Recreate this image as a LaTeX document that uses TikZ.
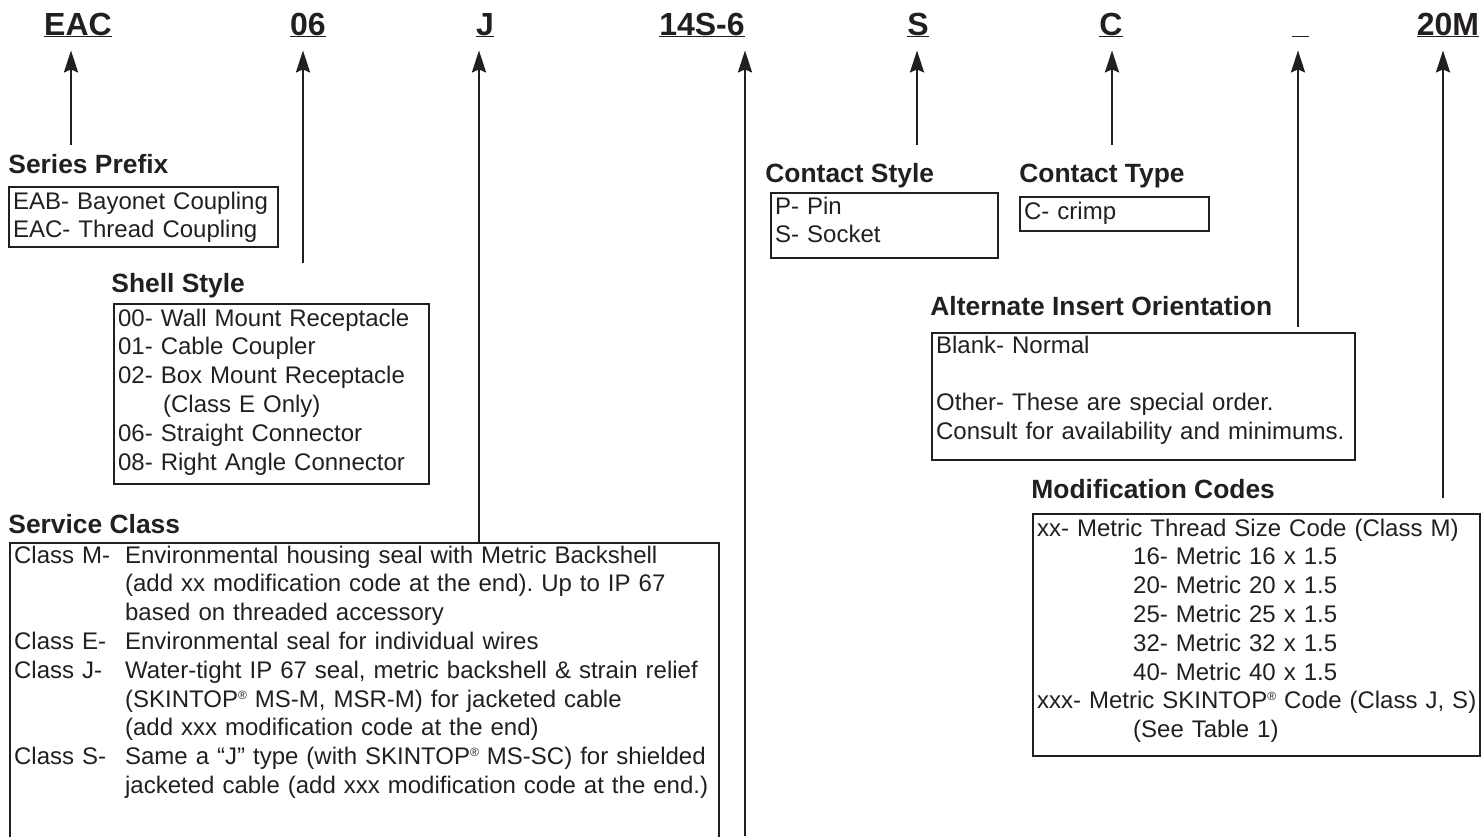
\documentclass[tikz,border=0pt]{standalone}
\usepackage{fontspec}
\setmainfont{Liberation Sans}
\usetikzlibrary{arrows.meta, positioning}
\usepackage{xcolor}
\definecolor{inkBlack}{RGB}{35,31,32}
\frenchspacing

\newcommand{\codelbl}[1]{\setbox0\hbox{#1}\rlap{\rule[-1.2pt]{\wd0}{0.9pt}}\box0}
\newcommand{\regmark}{\raisebox{4pt}{\fontsize{6}{6}\selectfont ®}}

\begin{document}
\begin{tikzpicture}[
    x=0.5pt, y=-0.5pt,
    every node/.style={text=inkBlack},
    codelabel/.style={font=\fontsize{16}{19}\selectfont\bfseries, anchor=base, inner xsep=0pt, inner ysep=6.3pt},
    fieldhead/.style={font=\fontsize{13.2}{15.8}\selectfont\bfseries, anchor=base west, inner sep=0pt},
    optbox/.style={rectangle, draw=inkBlack, line width=1.15pt, anchor=north west, align=left, inner xsep=2pt, inner ysep=0pt, font=\fontsize{12}{14.4}\selectfont},
    arrow/.style={-{Stealth[length=11pt, width=7pt, inset=1.5pt]}, line width=1.3pt, draw=inkBlack}
]
\useasboundingbox (0,0) rectangle (1483,836);

% Part number
\node[codelabel] (series) at (78,35) {\codelbl{EAC}};
\node[codelabel] (shell) at (308,35) {\codelbl{06}};
\node[codelabel] (class) at (485,35) {\codelbl{J}};
\node[codelabel] (layout) at (702,35) {\codelbl{14S-6}};
\node[codelabel] (cstyle) at (918,35) {\codelbl{S}};
\node[codelabel] (ctype) at (1111,35) {\codelbl{C}};
\node[codelabel] (orient) at (1300,35) {\codelbl{\hspace*{8.5pt}}};
\node[codelabel] (modcode) at (1448,35) {\codelbl{20M}};

% Headings
\node[fieldhead] (serieshead) at (8,173) {Series Prefix};
\node[fieldhead] (shellhead) at (111,292) {Shell Style};
\node[fieldhead] (classhead) at (8,533) {Service Class};
\node[fieldhead] (cstylehead) at (765,182) {Contact Style};
\node[fieldhead] (ctypehead) at (1019,182) {Contact Type};
\node[fieldhead] (orienthead) at (930,315) {Alternate Insert Orientation};
\node[fieldhead] (modhead) at (1031,498) {Modification Codes};

% Option boxes
\node[optbox, text width=130.5pt, text height=11pt, text depth=19pt] (seriesbox) at (8,186) {
    EAB- Bayonet Coupling\\
    EAC- Thread Coupling
};
\node[optbox, text width=153.5pt, text height=11pt, text depth=79pt] (shellbox) at (113,303) {
    00- Wall Mount Receptacle\\
    01- Cable Coupler\\
    02- Box Mount Receptacle\\
    \hspace*{22.5pt}(Class E Only)\\
    06- Straight Connector\\
    08- Right Angle Connector
};
\node[optbox, text width=350.5pt, text height=10pt, text depth=170pt] (classbox) at (9,542) {
    \makebox[55.5pt][l]{Class M-}Environmental housing seal with Metric Backshell\\
    \hspace*{55.5pt}(add xx modification code at the end). Up to IP 67\\
    \hspace*{55.5pt}based on threaded accessory\\
    \makebox[55.5pt][l]{Class E-}Environmental seal for individual wires\\
    \makebox[55.5pt][l]{Class J-}Water-tight IP 67 seal, metric backshell \& strain relief\\
    \hspace*{55.5pt}(SKINTOP\regmark{} MS-M, MSR-M) for jacketed cable\\
    \hspace*{55.5pt}(add xxx modification code at the end)\\
    \makebox[55.5pt][l]{Class S-}Same a “J” type (with SKINTOP\regmark{} MS-SC) for shielded\\
    \hspace*{55.5pt}jacketed cable (add xxx modification code at the end.)
};
\node[optbox, text width=109.5pt, text height=10.5pt, text depth=22pt] (cstylebox) at (770,192) {
    P- Pin\\
    S- Socket
};
\node[optbox, text width=90.5pt, text height=11pt, text depth=6pt] (ctypebox) at (1019,196) {C- crimp};
\node[optbox, text width=207.5pt, text height=10pt, text depth=53.5pt] (orientbox) at (931,332) {
    Blank- Normal\\[14.4pt]
    Other- These are special order.\\
    Consult for availability and minimums.
};
\node[optbox, text width=219.5pt, text height=11pt, text depth=110pt] (modbox) at (1032,513) {
    \mbox{xx- Metric Thread Size Code (Class M)}\\
    \hspace*{48pt}16- Metric 16 x 1.5\\
    \hspace*{48pt}20- Metric 20 x 1.5\\
    \hspace*{48pt}25- Metric 25 x 1.5\\
    \hspace*{48pt}32- Metric 32 x 1.5\\
    \hspace*{48pt}40- Metric 40 x 1.5\\
    \mbox{xxx- Metric SKINTOP\regmark{} Code (Class J, S)}\\
    \hspace*{48pt}(See Table 1)
};

% Arrows
\coordinate (seriestail) at (71,145);
\coordinate (shelltail) at (303,263);
\coordinate (classtail) at (479,542);
\coordinate (layouttail) at (745,836);
\coordinate (cstyletail) at (917,145);
\coordinate (ctypetail) at (1112,145);
\coordinate (orienttail) at (1298,327);
\coordinate (modtail) at (1443,498);

\draw[arrow] (seriestail) -- (seriestail |- series.south);
\draw[arrow] (shelltail) -- (shelltail |- shell.south);
\draw[arrow] (classtail) -- (classtail |- class.south);
\draw[arrow] (layouttail) -- (layouttail |- layout.south);
\draw[arrow] (cstyletail) -- (cstyletail |- cstyle.south);
\draw[arrow] (ctypetail) -- (ctypetail |- ctype.south);
\draw[arrow] (orienttail) -- (orienttail |- orient.south);
\draw[arrow] (modtail) -- (modtail |- modcode.south);

\end{tikzpicture}
\end{document}
